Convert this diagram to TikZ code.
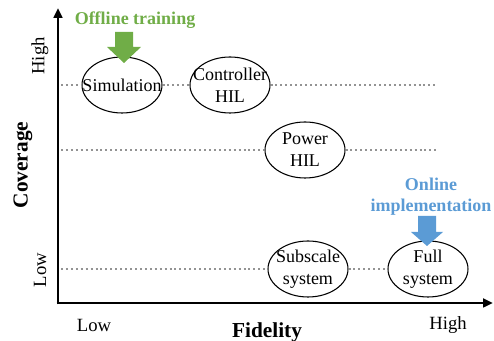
\documentclass[tikz,border=0pt]{standalone}
\usepackage{fontspec}
\setmainfont{Liberation Serif}
\usetikzlibrary{arrows.meta}
\usetikzlibrary{shapes.geometric}
\definecolor{offgreen}{RGB}{112,173,71}
\definecolor{onblue}{RGB}{91,155,213}
\begin{document}
\begin{tikzpicture}[x=0.75pt,y=-0.75pt,
	stage/.style={draw,ellipse,line width=0.8pt,minimum width=60pt,minimum height=42pt,inner sep=0pt},
	stagetext/.style={inner sep=0pt,align=center,font=\fontsize{13.5}{16.5}\selectfont},
	level/.style={draw=gray!85,line width=1.5pt,dash pattern=on 1.5pt off 2.2pt},
	axis/.style={line width=2pt,-{Triangle[length=7.5pt,width=6.5pt]}},
	tick/.style={font=\fontsize{14}{16}\selectfont},
	title/.style={font=\fontsize{16}{18}\selectfont\bfseries},
	note/.style={font=\fontsize{13.5}{16}\selectfont\bfseries}]
	\useasboundingbox (0,0) rectangle (494,341);
	% axes
	\coordinate (o) at (58,303);
	\coordinate (ytop) at (58,8);
	\coordinate (xend) at (493,303);
	\draw[axis] ([yshift=-1pt]o) -- (ytop);
	\draw[axis] ([xshift=-1pt]o) -- (xend);
	% stages
	\node[stage] (sim) at (122,85) {};
	\node[stage] (ctrl) at (230,85) {};
	\node[stage] (pwr) at (305,150) {};
	\node[stage] (sub) at (308,269) {};
	\node[stage] (full) at (428,269) {};
	\node[stagetext] at (sim) {Simulation};
	\node[stagetext] at (ctrl) {Controller\\HIL};
	\node[stagetext] at (pwr) {Power\\HIL};
	\node[stagetext] at (sub) {Subscale\\system};
	\node[stagetext] at (full) {Full\\system};
	% coverage levels
	\coordinate (hiL) at (61,85);
	\coordinate (hiR) at (436,85);
	\coordinate (midL) at (61,150);
	\coordinate (midR) at (436,150);
	\coordinate (loL) at (61,269);
	\draw[level] (hiL) -- (sim) -- (ctrl) -- (hiR);
	\draw[level] (midL) -- (pwr) -- (midR);
	\draw[level] (loL) -- (sub) -- (full);
	% labels
	\node[tick,rotate=90] (yhigh) at (40,56) {High};
	\node[tick,rotate=90] (ylow) at (40,270) {Low};
	\node[title,rotate=90] (ylab) at (23,165) {Coverage};
	\node[tick] (xlow) at (94,325) {Low};
	\node[tick] (xhigh) at (448,325) {High};
	\node[title,anchor=base] (xlab) at (267,338) {Fidelity};
	% training arrows
	\coordinate (offtop) at (124,32);
	\fill[offgreen] (offtop) ++(-9,0) -- ++(18,0) -- ++(0,15) -- ++(8,0) -- ++(-17,16) -- ++(-17,-16) -- ++(8,0) -- cycle;
	\node[note,text=offgreen] (offl) at (135,20) {Offline training};
	\coordinate (ontop) at (427,216);
	\fill[onblue] (ontop) ++(-9,0) -- ++(18,0) -- ++(0,16) -- ++(7,0) -- ++(-16,14) -- ++(-16,-14) -- ++(7,0) -- cycle;
	\node[note,text=onblue,align=center] (onl) at (431,197) {Online\\implementation};
\end{tikzpicture}
\end{document}
